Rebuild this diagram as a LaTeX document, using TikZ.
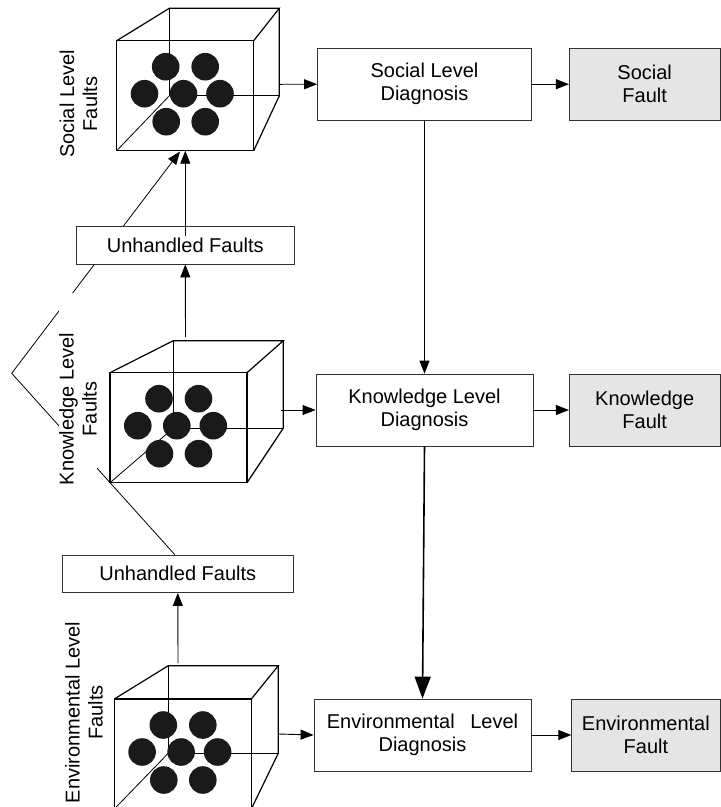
\documentclass[tikz,border=0pt]{standalone}
\usepackage{fontspec}
\setmainfont{Liberation Sans}
\usetikzlibrary{arrows.meta,backgrounds}
\definecolor{boxline}{RGB}{50,50,50}
\definecolor{faultfill}{RGB}{229,229,229}
\definecolor{dotfill}{RGB}{26,26,26}
\newcommand\mycube[4]{%
  \draw[cubehid] (#3,#4) -- (#3,#4+87.5) -- (#3+110,#4+87.5);
  \draw[cubehid] (#1,#2+110) -- (#3,#4+87.5);
  \foreach \dx/\dy in {49/26,88.5/26,27.8/53,66.8/53,103.3/53,49.5/81,88.5/81}
    \fill[dotfill] (#1+\dx,#2+\dy) circle (13.8pt);
  \draw[cubefront] (#1,#2) rectangle (#1+137,#2+110);
  \draw[cubefront] (#1,#2) -- (#3,#4) -- (#3+110,#4) -- (#1+137,#2);
  \draw[cubefront] (#3+110,#4) -- (#3+110,#4+87.5) -- (#1+137,#2+110);
}
\tikzset{
  txt/.style={font=\fontsize{20}{23}\selectfont},
  box/.style={txt, draw=boxline, line width=0.8pt, fill=white, minimum height=72pt, align=center, inner sep=0pt},
  diagbox/.style={box, minimum width=217pt},
  faultbox/.style={box, fill=faultfill},
  uhbox/.style={box, minimum height=37.5pt},
  lbl/.style={txt, rotate=90, align=center, inner sep=0pt},
  cubehid/.style={line width=0.8pt, black},
  cubefront/.style={line width=1.2pt, black, line join=miter},
  conn/.style={line width=0.9pt, -{Triangle[length=13pt,width=10pt]}},
  thickconn/.style={line width=1.6pt, -{Triangle[length=22pt,width=16pt]}},
  plainline/.style={line width=0.8pt}
}
\begin{document}
\begin{tikzpicture}[x=1pt,y=-1pt]
\useasboundingbox (0,0) rectangle (721,807);

% cubes
\mycube{116.7}{40.7}{169.3}{8.3}
\mycube{110}{372.7}{173.3}{340.7}
\mycube{114.3}{699}{168.3}{665.7}

% named points on cubes
\coordinate (c1r) at (280,84.3);
\coordinate (c1b) at (185.3,150.7);
\coordinate (c1bd) at (180,151.5);
\coordinate (c2r) at (281,410);
\coordinate (c2t) at (185.5,337);
\coordinate (c3r) at (278.3,734);
\coordinate (c3t) at (178,663);
\coordinate (v) at (11.7,373.3);
\coordinate (uh1in) at (185.3,236);

% diagnosis boxes
\node[diagbox, minimum width=214pt] (sd) at (424.5,84.2) {Social Level\\Diagnosis};
\node[diagbox] (kd) at (424.5,410) {Knowledge Level\\Diagnosis};
\node[diagbox] (ed) at (422.5,735) {Environmental\hspace{0.78em}Level\\Diagnosis};

% fault boxes
\node[faultbox, minimum width=150.7pt] (sf) at (644.7,84.2) {Social\\Fault};
\node[faultbox, minimum width=150.7pt] (kf) at (644.7,410) {Knowledge\\Fault};
\node[faultbox, minimum width=148.3pt] (ef) at (645.9,735) {Environmental\\Fault};

% unhandled boxes
\node[uhbox, minimum width=217.3pt] (uh1) at (185.3,245.3) {Unhandled Faults};
\node[uhbox, minimum width=231pt] (uh2) at (177.8,573.8) {Unhandled Faults};

% labels
\node[lbl] (l1) at (78.5,104) {Social Level\\Faults};
\node[lbl, fill=white, minimum width=232pt] (l2) at (78,409) {Knowledge Level\\Faults};
\node[lbl] (l3) at (84,712.5) {Environmental Level\\Faults};

% long unhandled path behind boxes and label
\begin{scope}[on background layer]
  \draw[conn, line width=0.8pt] ([xshift=-3pt]uh2.north) -- (v) -- (c1bd);
\end{scope}

% connectors
\draw[conn] (c1r) -- (sd.west);
\draw[conn] (c2r) -- (kd.west);
\draw[conn] (c3r) -- (ed.west);
\draw[conn] (sd.east) -- (sf.west);
\draw[conn] (kd.east) -- (kf.west);
\draw[conn] (ed.east) -- (ef.west);
\draw[conn] (sd.south) -- (kd.north);
\draw[thickconn] (kd.south) -- (ed.north);
\draw[conn] (c2t) -- (uh1.south);
\draw[conn] (c3t) -- (uh2.south);
\draw[conn] (uh1in) -- (c1b);
\end{tikzpicture}
\end{document}
